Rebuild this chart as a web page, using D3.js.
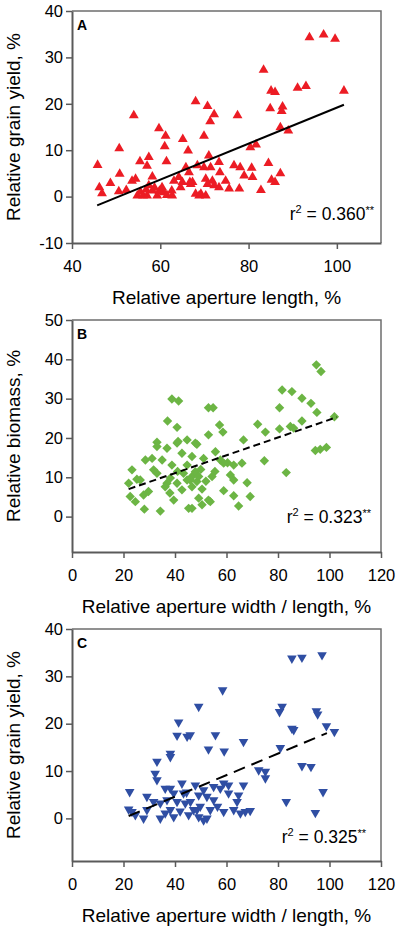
<!DOCTYPE html>
<html>
<head>
<meta charset="utf-8">
<script src="https://cdn.jsdelivr.net/npm/d3@7"></script>
<style>
  body { margin: 0; background: #fff; }
  text { font-family: "Liberation Sans", Arial, sans-serif; fill: #000; }
</style>
</head>
<body>
<script>
// panel A: relative aperture length vs relative grain yield
var pointsA = [
  [54.0,17.5],[59.7,14.7],[61.2,13.1],[61.0,10.8],[65.1,12.4],[68.0,20.5],[50.7,10.4],[66.3,9.9],
  [93.8,34.3],[97.0,34.9],[99.6,34.0],[83.4,27.3],[85.1,22.8],[86.0,22.5],[91.1,23.4],[93.0,23.8],[101.6,22.8],
  [70.7,19.5],[72.2,17.7],[71.3,16.2],[77.5,17.5],[84.9,19.0],[87.7,19.4],[87.5,18.4],[87.2,14.9],[89.0,14.2],
  [69.9,13.1],[80.4,10.6],[81.7,11.2],[65.8,6.3],
  [45.8,6.8],[57.4,8.5],[57.0,6.6],[55.4,7.6],[61.4,7.6],[46.2,2.0],[46.8,0.7],[48.7,2.9],[50.8,4.9],[50.6,1.1],
  [52.3,1.4],[53.6,3.4],[54.4,3.8],[54.8,0.2],[56.1,0.2],[58.2,4.3],[57.4,2.4],[58.2,1.3],[59.3,0.2],[57.0,0.2],
  [58.7,1.9],[60.8,0.9],[60.4,2.0],[63.1,3.4],[62.6,1.3],[62.7,0.2],[64.2,4.2],[65.0,3.1],[64.6,2.0],[66.7,3.1],
  [66.5,5.2],[68.4,6.7],[68.0,0.6],[68.8,0.2],[55.5,1.0],[59.8,1.2],[61.5,0.3],[56.8,1.5],
  [71.0,8.8],[73.3,7.4],[69.9,6.3],[71.4,6.3],[73.5,5.2],[76.7,6.7],[78.1,6.3],[80.7,6.2],[84.5,7.2],[87.2,5.0],
  [79.0,4.5],[80.9,4.2],[85.2,3.6],[86.0,3.1],[82.8,1.4],[67.3,3.1],[70.3,3.8],[71.8,3.4],[72.2,2.4],[73.3,2.0],
  [74.8,3.4],[75.6,1.7],[77.9,1.7],[70.7,2.7],[69.2,0.6],[70.3,0.2],[66.9,2.7]
];
// panel B: relative aperture width/length vs relative biomass
var pointsB = [
  [38.8,29.9],[41.4,29.4],[37.1,24.3],[40.8,22.7],[33.0,18.9],[41.2,19.1],[44.7,19.5],[48.5,18.4],
  [94.9,38.6],[96.7,36.9],[81.6,32.2],[85.4,31.8],[89.3,30.1],[92.8,28.8],[80.6,27.7],[95.1,26.5],[101.9,25.4],
  [53.0,27.7],[54.8,27.7],[57.3,23.3],[58.6,21.5],[53.0,20.8],[72.1,23.5],[75.1,21.5],[80.6,22.3],[84.8,22.9],
  [86.1,22.5],[89.3,24.3],[66.6,19.5],[47.9,18.7],
  [23.3,11.9],[22.0,8.5],[25.2,9.5],[22.6,5.1],[24.6,3.8],[28.1,1.9],[34.3,1.4],[45.3,2.1],[28.5,14.4],[31.1,14.8],
  [33.0,17.8],[36.9,17.4],[40.8,18.7],[38.8,13.1],[42.7,16.1],[46.6,15.3],[31.7,11.9],[33.0,11.0],[26.5,9.3],
  [29.7,6.4],[27.8,5.5],[36.9,8.5],[38.2,9.8],[40.8,8.5],[39.5,4.2],[42.7,6.8],[44.7,9.3],[46.6,10.2],[48.5,8.9],
  [36.2,7.6],[43.3,11.0],[47.9,11.4],[49.2,4.7],[35.0,14.4],[44.7,13.1],[50.0,12.0],[52.0,9.0],[55.5,11.5],
  [50.5,7.0],[41.0,11.5],[38.0,6.0],
  [94.5,16.8],[96.4,17.1],[98.8,17.6],[83.2,11.2],[74.7,14.2],[66.0,13.6],[62.8,13.1],[60.4,13.7],[55.7,16.5],
  [57.6,14.4],[58.9,13.6],[51.1,14.8],[49.2,10.2],[54.4,10.2],[61.5,10.6],[62.8,9.3],[68.0,8.6],[58.9,6.6],
  [62.8,5.3],[69.2,5.1],[53.0,4.2],[53.7,3.8],[50.5,3.0],[64.7,2.7],[46.6,2.1],[45.9,9.3],[46.6,7.6]
];
// panel C: relative aperture width/length vs relative grain yield
var pointsC = [
  [41.4,20.3],[40.8,17.5],[44.7,17.3],[49.2,23.6],[38.2,13.7],
  [85.4,33.8],[89.3,34.0],[97.1,34.5],[58.5,27.1],[81.6,23.6],[80.6,22.5],[94.9,22.7],[95.4,22.0],[85.4,19.0],
  [86.1,18.7],[98.8,19.5],[101.9,18.3],[45.9,17.6],[55.7,17.6],[66.6,16.2],[53.0,14.6],[59.1,14.2],[80.9,14.9],
  [33.0,12.0],[38.2,13.0],[32.3,9.5],[33.0,8.1],[22.4,5.6],[22.0,1.9],[23.3,1.4],[24.6,0.7],[27.8,0.0],[29.1,1.8],
  [29.1,4.6],[31.7,3.5],[34.3,0.0],[36.2,6.3],[38.2,6.3],[36.9,3.9],[38.2,1.8],[39.5,0.3],[36.2,1.1],[40.8,3.5],
  [42.7,7.4],[43.3,5.3],[44.0,3.2],[45.3,0.7],[47.2,1.8],[47.9,7.0],[49.2,4.9],[39.5,5.3],[34.3,3.2],
  [42.0,1.5],[46.0,3.5],[56.5,2.5],[44.5,5.5],
  [89.3,11.1],[92.8,10.9],[72.5,10.2],[75.1,9.9],[75.1,8.5],[97.5,5.6],[83.2,3.5],[94.5,1.2],[66.6,7.0],[64.7,4.9],
  [64.1,3.5],[58.9,7.4],[60.8,7.0],[57.6,6.3],[55.0,6.7],[51.1,6.0],[52.4,4.6],[55.0,3.9],[60.8,5.3],[58.9,1.4],
  [62.8,1.8],[65.4,1.1],[67.3,1.4],[69.2,1.6],[48.5,1.8],[49.8,2.5],[52.4,0.0],[51.1,-0.4],[53.7,1.8],[49.2,0.3]
];

// regression line end points [x0, y0, x1, y1]
var fitA = [45.7, -1.9, 101.6, 19.8];
var fitB = [22.0, 7.0, 102.9, 25.3];
var fitC = [22.0, 0.5, 99.0, 18.0];

var ticksA_x = [40, 60, 80, 100], ticksA_y = [-10, 0, 10, 20, 30, 40];
var ticksBC_x = [0, 20, 40, 60, 80, 100, 120];
var ticksB_y = [0, 10, 20, 30, 40, 50], ticksC_y = [0, 10, 20, 30, 40];

var W = 397, H = 929;
var left = 72, right = 381;

var svg = d3.select("body").append("svg")
    .attr("width", W)
    .attr("height", H);

function drawPanel(p) {
    var x = d3.scaleLinear().domain(p.xDomain).range([left, right]);
    var y = d3.scaleLinear().domain(p.yDomain).range([p.bottom, p.top]);
    var g = svg.append("g");

    // top / right frame
    g.append("path")
        .attr("d", "M" + left + "," + p.top + "H" + right + "V" + p.bottom)
        .attr("fill", "none")
        .attr("stroke", "#6e6e6e")
        .attr("stroke-width", 1.5);

    // points
    var sym = d3.symbol().type(p.symbol).size(p.size);
    g.append("g").selectAll("path")
        .data(p.points)
        .enter().append("path")
        .attr("d", sym)
        .attr("transform", d => "translate(" + x(d[0]) + "," + y(d[1]) + ") rotate(" + p.rotate + ")")
        .attr("fill", p.color);

    // regression line
    g.append("line")
        .attr("x1", x(p.fit[0])).attr("y1", y(p.fit[1]))
        .attr("x2", x(p.fit[2])).attr("y2", y(p.fit[3]))
        .attr("stroke", "#000")
        .attr("stroke-width", 2)
        .attr("stroke-dasharray", p.dash);

    // axes (plain hyphen for negatives)
    var fmt = d => String(d);
    var yAxis = g.append("g")
        .attr("transform", "translate(" + left + ",0)")
        .call(d3.axisLeft(y).tickValues(p.yTicks).tickFormat(fmt).tickSize(6).tickSizeOuter(0).tickPadding(3));
    var xAxis = g.append("g")
        .attr("transform", "translate(0," + p.bottom + ")")
        .call(d3.axisBottom(x).tickValues(p.xTicks).tickFormat(fmt).tickSize(6).tickSizeOuter(0).tickPadding(11));
    [xAxis, yAxis].forEach(function (a) {
        a.select(".domain").attr("stroke", "#5a5a5a").attr("stroke-width", 2);
        a.selectAll(".tick line").attr("stroke", "#5a5a5a").attr("stroke-width", 1.5);
        a.selectAll("text")
            .style("font-family", "'Liberation Sans', Arial, sans-serif")
            .style("font-size", "16.5px")
            .attr("fill", "#000");
    });

    // panel letter
    g.append("text")
        .attr("x", left + 5)
        .attr("y", p.top + 19)
        .style("font-size", "14px")
        .style("font-weight", "bold")
        .text(p.letter);

    // r squared
    var r = g.append("text")
        .attr("x", p.r2x)
        .attr("y", p.r2y)
        .attr("text-anchor", "end")
        .style("font-size", "17.5px");
    r.append("tspan").text("r");
    r.append("tspan").attr("dy", -7).style("font-size", "11px").text("2");
    r.append("tspan").attr("dy", 7).text(" = " + p.r2);
    r.append("tspan").attr("dy", -6).style("font-size", "11px").text("**");

    // axis titles
    g.append("text")
        .attr("x", (left + right) / 2)
        .attr("y", p.bottom + 61)
        .attr("text-anchor", "middle")
        .style("font-size", "19px")
        .text(p.xTitle);
    g.append("text")
        .attr("transform", "translate(20," + (p.top + p.bottom) / 2 + ") rotate(-90)")
        .attr("text-anchor", "middle")
        .style("font-size", "19px")
        .text(p.yTitle);
}

drawPanel({
    top: 11, bottom: 243,
    xDomain: [40, 110], yDomain: [-10, 40],
    xTicks: ticksA_x, yTicks: ticksA_y,
    points: pointsA, symbol: d3.symbolTriangle, rotate: 0, size: 42, color: "#ec1c24",
    fit: fitA, dash: null,
    letter: "A", r2: "0.360", r2x: 374, r2y: 220,
    xTitle: "Relative aperture length, %", yTitle: "Relative grain yield, %"
});

drawPanel({
    top: 320, bottom: 552,
    xDomain: [0, 120], yDomain: [-9, 50],
    xTicks: ticksBC_x, yTicks: ticksB_y,
    points: pointsB, symbol: d3.symbolSquare, rotate: 45, size: 44, color: "#6cb544",
    fit: fitB, dash: "7,4",
    letter: "B", r2: "0.323", r2x: 371, r2y: 523,
    xTitle: "Relative aperture width / length, %", yTitle: "Relative biomass, %"
});

drawPanel({
    top: 629, bottom: 861,
    xDomain: [0, 120], yDomain: [-9, 40],
    xTicks: ticksBC_x, yTicks: ticksC_y,
    points: pointsC, symbol: d3.symbolTriangle, rotate: 180, size: 40, color: "#2f4ea3",
    fit: fitC, dash: "12,7",
    letter: "C", r2: "0.325", r2x: 366, r2y: 843,
    xTitle: "Relative aperture width / length, %", yTitle: "Relative grain yield, %"
});
</script>
</body>
</html>
